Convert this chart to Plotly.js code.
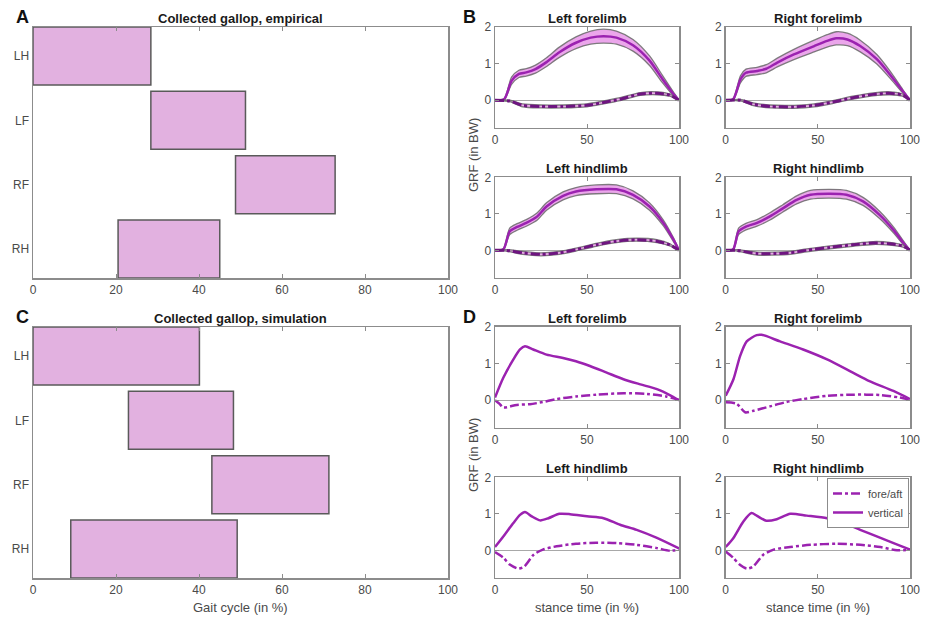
<!DOCTYPE html>
<html>
<head>
<meta charset="utf-8">
<script src="https://cdn.plot.ly/plotly-3.0.1.min.js"></script>
<style>
  html, body { margin: 0; padding: 0; background: #ffffff; }
  #chart { width: 925px; height: 619px; }
</style>
</head>
<body>
<div id="chart"></div>
<script>
// ---------- Footfall pattern (stance phases in % of gait cycle) ----------
const limbs = ['LH', 'LF', 'RF', 'RH'];
const limbPos = [4, 3, 2, 1];
const empOn  = [0, 28.4, 48.8, 20.5];
const empOff = [28.4, 51.2, 72.8, 45.0];
const simOn  = [0, 23.0, 43.1, 9.1];
const simOff = [40.1, 48.3, 71.3, 49.2];

// ---------- Empirical GRF: mean and spread (in BW) ----------
const empLFx  = [0, 5, 9, 13, 17, 22, 28, 35, 44, 52, 59, 66, 75, 84, 91, 97, 100];
const empLFv  = [0, 0.03, 0.53, 0.72, 0.76, 0.85, 1.04, 1.31, 1.57, 1.71, 1.75, 1.71, 1.5, 1.08, 0.58, 0.17, 0];
const empLFsd = [0, 0.02, 0.1, 0.1, 0.1, 0.11, 0.12, 0.14, 0.16, 0.18, 0.19, 0.18, 0.16, 0.13, 0.1, 0.05, 0];
const empLFfx = [0, 8, 15, 25, 37, 50, 59, 68, 79, 88, 95, 100];
const empLFf  = [0, -0.02, -0.14, -0.17, -0.17, -0.14, -0.06, 0.03, 0.17, 0.19, 0.14, 0];
const empLFfsd= [0, 0.02, 0.04, 0.04, 0.04, 0.04, 0.04, 0.04, 0.04, 0.04, 0.03, 0];

const empRFx  = [0, 4, 8, 11, 17, 22, 28, 37, 48, 55, 60, 66, 73, 82, 89, 96, 100];
const empRFv  = [0, 0.02, 0.57, 0.75, 0.8, 0.86, 1.03, 1.25, 1.48, 1.62, 1.69, 1.66, 1.48, 1.12, 0.71, 0.25, 0];
const empRFsd = [0, 0.02, 0.1, 0.1, 0.1, 0.11, 0.12, 0.14, 0.16, 0.17, 0.18, 0.17, 0.16, 0.13, 0.1, 0.05, 0];
const empRFfx = [0, 8, 15, 24, 37, 48, 58, 69, 80, 89, 96, 100];
const empRFf  = [0, 0, -0.11, -0.17, -0.18, -0.14, -0.05, 0.07, 0.16, 0.19, 0.14, 0];
const empRFfsd= [0, 0.02, 0.04, 0.04, 0.04, 0.04, 0.04, 0.04, 0.04, 0.04, 0.03, 0];

const empLHx  = [0, 4.5, 8, 12, 17, 23, 28, 37, 44, 55, 66, 75, 84, 91.5, 97, 100];
const empLHv  = [0, 0.02, 0.52, 0.64, 0.75, 0.93, 1.2, 1.49, 1.61, 1.67, 1.67, 1.52, 1.2, 0.75, 0.29, 0];
const empLHsd = [0, 0.02, 0.09, 0.09, 0.09, 0.1, 0.1, 0.11, 0.11, 0.12, 0.12, 0.11, 0.1, 0.08, 0.05, 0];
const empLHfx = [0, 6, 15, 25, 35, 44, 55, 66, 77, 88, 95, 100];
const empLHf  = [0, 0, -0.07, -0.11, -0.07, 0.02, 0.15, 0.25, 0.29, 0.25, 0.15, 0];
const empLHfsd= [0, 0.02, 0.04, 0.04, 0.04, 0.04, 0.04, 0.04, 0.04, 0.04, 0.03, 0];

const empRHx  = [0, 4, 7, 11, 17, 24, 31, 38.5, 46, 56.5, 65.5, 74.5, 83.5, 91, 96.5, 100];
const empRHv  = [0, 0.02, 0.52, 0.65, 0.75, 0.93, 1.15, 1.38, 1.52, 1.55, 1.52, 1.34, 0.97, 0.56, 0.2, 0];
const empRHsd = [0, 0.02, 0.09, 0.09, 0.09, 0.1, 0.1, 0.11, 0.12, 0.12, 0.12, 0.11, 0.1, 0.08, 0.05, 0];
const empRHfx = [0, 6, 17, 26, 35, 44, 56.5, 69, 80, 89, 96.5, 100];
const empRHf  = [0, 0, -0.09, -0.09, -0.07, 0, 0.08, 0.15, 0.2, 0.18, 0.11, 0];
const empRHfsd= [0, 0.02, 0.04, 0.04, 0.04, 0.04, 0.04, 0.04, 0.04, 0.04, 0.03, 0];

// ---------- Simulated GRF (in BW) ----------
const simLFx  = [0, 4.5, 10, 13.6, 16.3, 20.8, 28, 37, 44, 51.6, 60.7, 69.8, 79, 88, 95, 100];
const simLFv  = [0.07, 0.61, 1.11, 1.38, 1.47, 1.38, 1.24, 1.15, 1.06, 0.93, 0.75, 0.57, 0.43, 0.3, 0.14, 0];
const simLFfx = [0, 2.5, 4.5, 11.8, 19, 26, 33.5, 44, 55, 70, 82.6, 93, 100];
const simLFf  = [0, -0.1, -0.2, -0.13, -0.11, -0.05, 0.03, 0.1, 0.15, 0.19, 0.17, 0.1, 0];

const simRFx  = [0, 4.2, 7.8, 11.4, 16.8, 19.5, 29.5, 42, 55, 69, 78, 91, 100];
const simRFv  = [0.12, 0.57, 1.2, 1.6, 1.77, 1.78, 1.6, 1.38, 1.11, 0.75, 0.52, 0.25, 0.03];
const simRFfx = [0, 6, 10.5, 15, 24, 33, 42, 55, 69, 84, 94.5, 100];
const simRFf  = [-0.06, -0.1, -0.33, -0.29, -0.17, -0.05, 0.03, 0.12, 0.15, 0.14, 0.07, 0];

const simLHx  = [0, 4.5, 10, 13.6, 16.3, 20, 24.5, 29, 35, 40.8, 50, 59, 68, 77, 88, 100];
const simLHv  = [0.09, 0.38, 0.75, 0.97, 1.05, 0.93, 0.82, 0.88, 1.0, 0.99, 0.93, 0.88, 0.7, 0.56, 0.34, 0.05];
const simLHfx = [0, 4.5, 8, 12.7, 16, 21, 26, 33.5, 44, 55, 66, 77, 88, 95, 100];
const simLHf  = [-0.05, -0.2, -0.39, -0.5, -0.44, -0.12, 0.02, 0.11, 0.18, 0.21, 0.2, 0.15, 0.06, -0.01, 0.02];

const simRHx  = [0, 4.2, 9.6, 14, 16.8, 22, 27.7, 35, 44, 55, 64, 73, 84, 94.5, 100];
const simRHv  = [0.09, 0.34, 0.79, 1.02, 0.95, 0.81, 0.85, 1.0, 0.95, 0.88, 0.75, 0.56, 0.34, 0.13, 0.02];
const simRHfx = [0, 4.2, 7.5, 11.4, 15, 20.4, 26, 35, 46, 60, 73, 84, 93, 100];
const simRHf  = [-0.03, -0.21, -0.39, -0.5, -0.44, -0.12, 0.02, 0.09, 0.15, 0.18, 0.15, 0.09, 0, 0.02];

// ---------- Styling ----------
const PURPLE = '#9b22b0';
const DARK_PURPLE = '#6e1580';
const BAND_FILL = 'rgba(232,150,232,0.85)';
const BAND_EDGE = 'rgba(105,105,105,0.85)';
const BAR_FILL = '#e2b1e0';
const BAR_EDGE = '#5a5a5a';
const AXIS_GREY = '#8c8c8c';
const TEXT_GREY = '#4a4a4a';
const SMOOTH = 0.7;

const traces = [];

function stanceBars(on, off, xa, ya) {
  traces.push({
    type: 'bar', orientation: 'h',
    y: limbPos, base: on, x: off.map((v, i) => v - on[i]),
    width: 0.9, xaxis: xa, yaxis: ya, showlegend: false, hoverinfo: 'skip',
    marker: { color: BAR_FILL, line: { color: BAR_EDGE, width: 1.5 } }
  });
}

function bandCurve(xs, mean, sd, xa, ya, lineColor, dash) {
  const lo = mean.map((v, i) => v - sd[i]);
  const hi = mean.map((v, i) => v + sd[i]);
  const common = { type: 'scatter', mode: 'lines', x: xs, xaxis: xa, yaxis: ya, showlegend: false, hoverinfo: 'skip' };
  traces.push(Object.assign({}, common, { y: lo, line: { color: BAND_EDGE, width: 1.3, shape: 'spline', smoothing: SMOOTH } }));
  traces.push(Object.assign({}, common, { y: hi, fill: 'tonexty', fillcolor: BAND_FILL,
    line: { color: BAND_EDGE, width: 1.3, shape: 'spline', smoothing: SMOOTH } }));
  traces.push(Object.assign({}, common, { y: mean,
    line: { color: lineColor, width: dash ? 3 : 2.5, dash: dash || 'solid', shape: 'spline', smoothing: SMOOTH } }));
}

function simCurve(xs, ys, xa, ya, dash, name, legend) {
  traces.push({
    type: 'scatter', mode: 'lines', x: xs, y: ys, xaxis: xa, yaxis: ya,
    name: name, showlegend: !!legend, hoverinfo: 'skip',
    line: { color: PURPLE, width: 2.5, dash: dash, shape: 'spline', smoothing: SMOOTH }
  });
}

// Panels A and C: footfall sequence
stanceBars(empOn, empOff, 'x', 'y');
stanceBars(simOn, simOff, 'x2', 'y2');

// Panel B: measured forces with spread
bandCurve(empLFx, empLFv, empLFsd, 'x3', 'y3', PURPLE);
bandCurve(empLFfx, empLFf, empLFfsd, 'x3', 'y3', DARK_PURPLE, 'dashdot');
bandCurve(empRFx, empRFv, empRFsd, 'x4', 'y4', PURPLE);
bandCurve(empRFfx, empRFf, empRFfsd, 'x4', 'y4', DARK_PURPLE, 'dashdot');
bandCurve(empLHx, empLHv, empLHsd, 'x5', 'y5', PURPLE);
bandCurve(empLHfx, empLHf, empLHfsd, 'x5', 'y5', DARK_PURPLE, 'dashdot');
bandCurve(empRHx, empRHv, empRHsd, 'x6', 'y6', PURPLE);
bandCurve(empRHfx, empRHf, empRHfsd, 'x6', 'y6', DARK_PURPLE, 'dashdot');

// Panel D: simulated forces
simCurve(simLFfx, simLFf, 'x7', 'y7', 'dashdot');
simCurve(simLFx, simLFv, 'x7', 'y7', 'solid');
simCurve(simRFfx, simRFf, 'x8', 'y8', 'dashdot');
simCurve(simRFx, simRFv, 'x8', 'y8', 'solid');
simCurve(simLHfx, simLHf, 'x9', 'y9', 'dashdot');
simCurve(simLHx, simLHv, 'x9', 'y9', 'solid');
simCurve(simRHfx, simRHf, 'x10', 'y10', 'dashdot', 'fore/aft', true);
simCurve(simRHx, simRHv, 'x10', 'y10', 'solid', 'vertical', true);

// ---------- Axes ----------
function axis(domain, anchor, extra) {
  return Object.assign({
    domain: domain, anchor: anchor,
    showline: true, mirror: 'ticks', linecolor: AXIS_GREY, linewidth: 1.5,
    ticks: 'inside', ticklen: 4, tickcolor: AXIS_GREY, tickwidth: 1,
    showgrid: false, zeroline: false, fixedrange: true,
    tickfont: { size: 12, color: TEXT_GREY }
  }, extra);
}

const W = 925, H = 619;
const px = (a, b) => [a / W, b / W];
const py = (top, bottom) => [1 - bottom / H, 1 - top / H];

const colA = px(33, 448);
const colL = px(495, 679);
const colR = px(725.7, 910);
const rowA = py(27, 278), rowC = py(327, 578);
const rowB1 = py(27, 127.7), rowB2 = py(177.3, 277.7);
const rowD1 = py(326.7, 427.7), rowD2 = py(477.3, 577.7);

const gaitX = { range: [0, 100], tickvals: [0, 20, 40, 60, 80, 100] };
const gaitY = { range: [0.55, 4.45], tickvals: limbPos, ticktext: limbs, ticklen: 0 };
const grfX = { range: [0, 100], tickvals: [0, 50, 100] };
const grfY = { range: [-0.75, 2], tickvals: [0, 1, 2], zeroline: true, zerolinecolor: '#a8a8a8', zerolinewidth: 1 };

const layout = {
  width: W, height: H,
  margin: { l: 0, r: 0, t: 0, b: 0 },
  paper_bgcolor: '#ffffff', plot_bgcolor: '#ffffff',
  font: { family: 'Liberation Sans, Arial, sans-serif', color: TEXT_GREY },
  barmode: 'overlay',
  xaxis:  axis(colA, 'y', gaitX),   yaxis:  axis(rowA, 'x', gaitY),
  xaxis2: axis(colA, 'y2', gaitX),  yaxis2: axis(rowC, 'x2', gaitY),
  xaxis3: axis(colL, 'y3', grfX),   yaxis3: axis(rowB1, 'x3', grfY),
  xaxis4: axis(colR, 'y4', grfX),   yaxis4: axis(rowB1, 'x4', grfY),
  xaxis5: axis(colL, 'y5', grfX),   yaxis5: axis(rowB2, 'x5', grfY),
  xaxis6: axis(colR, 'y6', grfX),   yaxis6: axis(rowB2, 'x6', grfY),
  xaxis7: axis(colL, 'y7', grfX),   yaxis7: axis(rowD1, 'x7', grfY),
  xaxis8: axis(colR, 'y8', grfX),   yaxis8: axis(rowD1, 'x8', grfY),
  xaxis9: axis(colL, 'y9', grfX),   yaxis9: axis(rowD2, 'x9', grfY),
  xaxis10: axis(colR, 'y10', grfX), yaxis10: axis(rowD2, 'x10', grfY),
  legend: {
    x: 909 / W, xanchor: 'right', y: 1 - 478 / H, yanchor: 'top',
    traceorder: 'normal',
    bgcolor: '#ffffff', bordercolor: AXIS_GREY, borderwidth: 1,
    font: { size: 11, color: TEXT_GREY }, tracegroupgap: 0, itemwidth: 30
  },
  annotations: []
};

function note(text, x, y, opts) {
  layout.annotations.push(Object.assign({
    text: text, x: x / W, y: 1 - y / H, xref: 'paper', yref: 'paper',
    showarrow: false, xanchor: 'center', yanchor: 'middle'
  }, opts));
}

const titleFont = { size: 13, color: '#1a1a1a', family: 'Liberation Sans, Arial, sans-serif' };
const letterFont = { size: 18, color: '#111111', family: 'Liberation Sans, Arial, sans-serif' };
const labelFont = { size: 13, color: TEXT_GREY };

// Panel letters
note('<b>A</b>', 22, 17, { font: letterFont });
note('<b>B</b>', 469, 17, { font: letterFont });
note('<b>C</b>', 22, 317, { font: letterFont });
note('<b>D</b>', 469, 317, { font: letterFont });

// Panel titles
note('<b>Collected gallop, empirical</b>', 240.5, 18, { font: titleFont });
note('<b>Collected gallop, simulation</b>', 240.5, 318, { font: titleFont });
const subTitles = [
  ['Left forelimb', 587, 18], ['Right forelimb', 818, 18],
  ['Left hindlimb', 587, 168], ['Right hindlimb', 818, 168],
  ['Left forelimb', 587, 318], ['Right forelimb', 818, 318],
  ['Left hindlimb', 587, 468], ['Right hindlimb', 818, 468]
];
subTitles.forEach(t => note('<b>' + t[0] + '</b>', t[1], t[2], { font: titleFont }));

// Axis labels
note('GRF (in BW)', 473, 155, { textangle: -90, font: labelFont });
note('GRF (in BW)', 473, 455, { textangle: -90, font: labelFont });
note('Gait cycle (in %)', 240.5, 607, { font: labelFont });
note('stance time (in %)', 587, 607, { font: labelFont });
note('stance time (in %)', 818, 607, { font: labelFont });

Plotly.newPlot('chart', traces, layout, { staticPlot: true, displayModeBar: false });
</script>
</body>
</html>
